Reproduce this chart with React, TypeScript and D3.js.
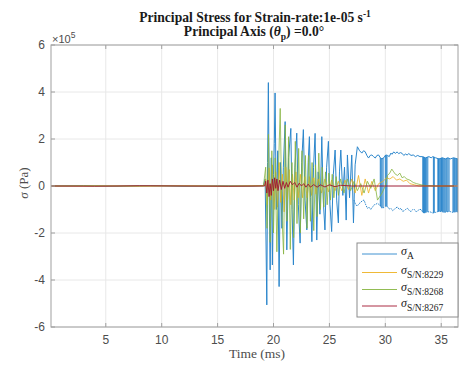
import React from "react";
import * as d3 from "d3";

// values in units of 1e5 Pa, time in ms
const seriesNames = ["A", "S/N:8229", "S/N:8268", "S/N:8267"];
const seriesColors = ["#2b86cc", "#EDB120", "#86b440", "#A2142F"];

const xTicks = [5, 10, 15, 20, 25, 30, 35];
const yTicks = [-6, -4, -2, 0, 2, 4, 6];

const blueMain: [number, number][] = [
  [0.1, 0], [3, 0.02], [6, -0.01], [9, 0.01], [12, -0.01], [15, 0.01], [18, 0], [19.1, 0.02], [19.25, 0.3],
  [19.32, -2.0], [19.4, -5.06], [19.47, 1.0], [19.54, 4.4], [19.62, -0.5], [19.7, -3.57], [19.8, 1.2],
  [19.9, -3.36], [20.0, 0.5], [20.07, 1.8], [20.14, 3.96], [20.25, -1.0], [20.38, 1.5], [20.5, -4.28],
  [20.62, 1.0], [20.75, -1.8], [20.88, 0.8], [21.04, 2.74], [21.19, -2.72], [21.35, 1.2], [21.55, 2.45],
  [21.66, -1.0], [21.78, -3.36], [21.92, 0.8], [22.08, 2.25], [22.22, -0.8], [22.38, -2.43], [22.52, 1.0],
  [22.67, 2.4], [22.82, -0.6], [22.98, -1.87], [23.1, 1.0], [23.21, 2.1], [23.32, -0.5], [23.43, -2.37],
  [23.58, 0.8], [23.72, 2.24], [23.87, -2.3], [24.0, 0.6], [24.15, -1.2], [24.32, 2.1], [24.45, -0.6],
  [24.6, -1.87], [24.75, 0.8], [24.91, 1.9], [25.05, -0.8], [25.2, -1.94], [25.35, 0.5], [25.51, 1.53],
  [25.65, -0.6], [25.8, -1.57], [25.9, 0.6], [26.02, 1.53], [26.2, -0.4], [26.35, 0.8], [26.5, -1.45],
  [26.61, 1.32], [26.8, -0.5], [27.0, 1.32], [27.15, -1.57], [27.3, 0.9], [27.5, 1.67],
  [27.7, 1.5], [27.9, 1.4], [28.05, 1.5], [28.2, 1.46], [28.35, 1.3], [28.5, 1.19], [28.65, 1.3],
  [28.8, 1.32], [28.95, 1.25], [29.1, 1.19], [29.25, 1.3], [29.4, 1.32], [29.55, 1.2], [29.7, 1.15],
  [29.85, 1.2], [30.05, 1.32], [30.2, 1.3], [30.35, 1.25], [30.5, 1.4], [30.6, 1.35], [30.75, 1.45],
  [30.9, 1.39], [31.05, 1.45], [31.2, 1.38], [31.35, 1.42], [31.5, 1.39], [31.65, 1.3], [31.8, 1.36],
  [31.95, 1.32], [32.1, 1.38], [32.3, 1.3], [32.5, 1.32], [32.7, 1.25], [32.9, 1.3], [33.1, 1.25],
  [33.3, 1.25], [33.6, 1.2], [33.9, 1.25], [34.1, 1.2], [34.25, 1.25], [34.5, 1.2], [34.8, 1.15],
  [35.1, 1.2], [35.4, 1.15], [35.6, 1.2], [35.8, 1.15], [36.1, 1.2], [36.5, 1.15],
];

const blueLower: [number, number][] = [
  [27.2, -0.6], [27.35, -0.8], [27.5, -0.85], [27.65, -0.75], [27.8, -0.7], [27.95, -0.62], [28.1, -0.6],
  [28.25, -0.8], [28.4, -0.95], [28.55, -0.9], [28.7, -1.0], [28.85, -0.9], [29.0, -0.8], [29.15, -0.78],
  [29.3, -0.73], [29.45, -0.8], [29.6, -0.85], [29.75, -0.95], [29.9, -0.9], [30.05, -0.85], [30.2, -0.88],
  [30.35, -0.98], [30.5, -0.95], [30.65, -1.05], [30.8, -1.0], [30.95, -0.92], [31.1, -0.9], [31.25, -1.0],
  [31.4, -0.95], [31.55, -1.08], [31.7, -1.05], [31.85, -0.98], [32.0, -0.95], [32.15, -1.05], [32.3, -1.09],
  [32.45, -1.0], [32.6, -1.0], [32.75, -1.1], [32.9, -1.05], [33.05, -1.0], [33.2, -1.0], [33.35, -1.12],
  [33.5, -1.15], [33.75, -1.1], [34.0, -1.1], [34.25, -1.15], [34.5, -1.12], [34.75, -1.08], [35.0, -1.08],
  [35.25, -1.12], [35.5, -1.1], [35.75, -1.08], [36.0, -1.12], [36.25, -1.1], [36.5, -1.1],
];

// [time, low, high] of the rapid switches in sigma_A
const blueSwitches: [number, number, number][] = [
  [29.55, -0.85, 1.2], [29.62, -0.9, 1.18], [29.7, -0.95, 1.15], [29.8, -0.9, 1.2], [30.0, -0.85, 1.32],
  [30.08, -0.86, 1.3], [30.15, -0.88, 1.3],
  [33.35, -1.12, 1.25], [33.42, -1.14, 1.24], [33.5, -1.15, 1.22], [33.6, -1.12, 1.2], [33.7, -1.1, 1.22],
  [33.8, -1.1, 1.24],
  [34.3, -1.15, 1.24], [34.38, -1.14, 1.23], [34.7, -1.1, 1.17], [34.76, -1.09, 1.16], [34.82, -1.08, 1.16],
  [34.9, -1.08, 1.17], [34.97, -1.08, 1.19], [35.03, -1.08, 1.2], [35.1, -1.09, 1.2], [35.17, -1.1, 1.18],
  [35.25, -1.12, 1.16], [35.33, -1.11, 1.15], [35.42, -1.1, 1.17], [35.5, -1.1, 1.2], [35.6, -1.09, 1.2],
  [35.7, -1.08, 1.17],
  [36.05, -1.12, 1.18], [36.12, -1.11, 1.2], [36.2, -1.1, 1.19], [36.3, -1.1, 1.17], [36.38, -1.1, 1.16],
  [36.45, -1.1, 1.15],
];

const yellow: [number, number][] = [
  [0.1, 0], [4, 0.01], [8, -0.01], [12, 0.01], [16, 0], [19.2, 0.02], [19.3, 0.3], [19.45, -0.8],
  [19.6, 0.77], [19.75, -0.6], [19.9, 0.9], [20.05, -1.0], [20.2, 0.6], [20.35, -0.9], [20.5, 1.0],
  [20.65, -0.7], [20.8, 0.5], [20.95, -1.1], [21.1, 0.8], [21.25, -0.6], [21.4, 0.7], [21.55, -0.8],
  [21.7, 0.5], [21.85, -0.6], [22.0, 0.6], [22.2, -0.5], [22.4, 0.5], [22.6, -0.5], [22.8, 0.4],
  [23.0, -0.5], [23.2, 0.4], [23.4, -0.4], [23.6, 0.35], [23.8, -0.35], [24.0, 0.3], [24.3, -0.3],
  [24.6, 0.3], [24.9, -0.25], [25.2, 0.25], [25.5, -0.2], [25.8, 0.2], [26.1, -0.2], [26.4, 0.25],
  [26.7, -0.15], [27.0, 0.3], [27.3, -0.3], [27.6, 0.45], [27.9, -0.4], [28.2, 0.3], [28.5, -0.3],
  [28.8, 0.2], [29.1, -0.2], [29.4, 0.1], [29.8, 0.2], [30.1, 0.35], [30.4, 0.3], [30.7, 0.4],
  [31.0, 0.25], [31.3, 0.3], [31.6, 0.2], [31.9, 0.25], [32.2, 0.1], [32.6, 0.05], [33.0, 0], [36.5, 0],
];

const green: [number, number][] = [
  [0.1, 0], [5, 0], [10, 0.01], [15, -0.01], [19.1, 0], [19.3, 0.8], [19.42, -1.8], [19.55, 2.2],
  [19.7, -2.4], [19.85, 1.5], [20.0, -2.0], [20.15, 1.2], [20.3, -2.8], [20.45, 0.8], [20.6, 3.3],
  [20.75, -1.2], [20.9, -2.9], [21.05, 2.6], [21.2, -1.5], [21.35, 2.1], [21.5, -2.7], [21.65, 1.0],
  [21.8, -2.2], [21.95, 1.9], [22.1, -1.6], [22.25, 1.6], [22.4, -2.0], [22.55, 1.5], [22.7, -1.4],
  [22.85, 1.3], [23.0, -1.8], [23.15, 1.3], [23.3, -1.5], [23.45, 1.0], [23.6, -1.9], [23.75, 0.9],
  [23.9, -1.3], [24.05, 1.4], [24.2, -1.0], [24.35, 0.8], [24.5, -0.9], [24.65, 0.6], [24.8, -0.8],
  [24.95, 0.55], [25.1, -0.6], [25.25, 0.5], [25.4, -0.5], [25.6, 0.4], [25.8, -0.4], [26.0, 0.3],
  [26.3, -0.3], [26.6, 0.3], [26.9, -0.2], [27.2, 0.2], [27.5, -0.2], [27.8, 0.1], [28.1, -0.3],
  [28.4, 0.2], [28.7, -0.1], [29.0, 0.3], [29.3, -0.6], [29.7, -0.3], [30.0, 0.0], [30.2, 0.45],
  [30.4, 0.55], [30.58, 0.72], [30.75, 0.6], [30.9, 0.5], [31.1, 0.45], [31.3, 0.55], [31.5, 0.35],
  [31.7, 0.4], [31.9, 0.3], [32.2, 0.25], [32.5, 0.15], [32.8, 0.1], [33.2, 0.05], [33.6, 0.02],
  [34.5, 0], [36.5, 0],
];

const red: [number, number][] = [
  [0.1, 0], [4, -0.01], [8, 0.01], [12, 0], [16, -0.01], [19.2, 0], [19.3, 0.2], [19.4, -0.3],
  [19.5, 0.25], [19.6, -0.45], [19.7, 0.1], [19.8, -0.4], [19.9, 0.3], [20.0, -0.2], [20.1, 0.35],
  [20.2, -0.1], [20.3, 0.3], [20.4, -0.2], [20.55, 0.25], [20.7, -0.15], [20.85, 0.2], [21.0, -0.1],
  [21.15, 0.15], [21.3, -0.05], [21.5, 0.2], [21.7, 0.05], [21.9, 0.15], [22.1, -0.05], [22.3, 0.12],
  [22.5, 0.0], [22.7, 0.1], [22.9, -0.05], [23.1, 0.08], [23.3, -0.05], [23.6, 0.06], [23.9, -0.05],
  [24.2, 0.05], [24.6, -0.04], [25.0, 0.05], [25.5, -0.03], [26.0, 0.03], [27.0, 0], [36.5, 0],
];

const W = 459;
const H = 366;
const M = { left: 51, right: 458, top: 45, bottom: 327 };

export default function App() {
  const x = d3.scaleLinear().domain([0.1, 36.5]).range([M.left, M.right]);
  const y = d3.scaleLinear().domain([-6, 6]).range([M.bottom, M.top]);
  const line = d3
    .line<[number, number]>()
    .x((d) => x(d[0]))
    .y((d) => y(d[1]));

  const serif = "'Liberation Serif', 'Times New Roman', serif";
  const sans = "'Liberation Sans', Arial, sans-serif";
  const tickColor = "#4d4d4d";
  const axisColor = "#a0a0a0";
  const gridColor = "#e8e8e8";

  const legendX = 357;
  const legendY = 243;
  const legendRows = [254, 272.5, 289.5, 306];

  return (
    <svg
      width={W}
      height={H}
      style={{ position: "absolute", left: 0, top: 0, background: "#fff" }}
    >
      <defs>
        <clipPath id="plot">
          <rect x={M.left} y={M.top} width={M.right - M.left} height={M.bottom - M.top} />
        </clipPath>
      </defs>
      <rect x={0} y={0} width={W} height={H} fill="#fff" />
      {/* grid */}
      {xTicks.map((t) => (
        <line key={"gx" + t} x1={x(t)} x2={x(t)} y1={M.top} y2={M.bottom} stroke={gridColor} strokeWidth={1} />
      ))}
      {yTicks.map((t) => (
        <line key={"gy" + t} x1={M.left} x2={M.right} y1={y(t)} y2={y(t)} stroke={gridColor} strokeWidth={1} />
      ))}
      {/* data */}
      <g clipPath="url(#plot)" fill="none" strokeLinejoin="round">
        <path d={line(blueMain) || ""} stroke={seriesColors[0]} strokeWidth={1} />
        <path d={line(blueLower) || ""} stroke={seriesColors[0]} strokeWidth={1} strokeDasharray="1.5,1" />
        {blueSwitches.map((s, i) => (
          <line key={"sw" + i} x1={x(s[0])} x2={x(s[0])} y1={y(s[1])} y2={y(s[2])} stroke={seriesColors[0]} strokeWidth={1} />
        ))}
        <path d={line(yellow) || ""} stroke={seriesColors[1]} strokeWidth={0.8} />
        <path d={line(green) || ""} stroke={seriesColors[2]} strokeWidth={0.8} />
        <path d={line(red) || ""} stroke={seriesColors[3]} strokeWidth={0.9} />
      </g>
      {/* axes box */}
      <rect x={M.left} y={M.top} width={M.right - M.left} height={M.bottom - M.top} fill="none" stroke={axisColor} strokeWidth={1} />
      {xTicks.map((t) => (
        <g key={"xt" + t}>
          <line x1={x(t)} x2={x(t)} y1={M.bottom} y2={M.bottom - 4} stroke={axisColor} />
          <line x1={x(t)} x2={x(t)} y1={M.top} y2={M.top + 4} stroke={axisColor} />
          <text x={x(t)} y={344} textAnchor="middle" fontFamily={sans} fontSize={12} fill={tickColor}>
            {t}
          </text>
        </g>
      ))}
      {yTicks.map((t) => (
        <g key={"yt" + t}>
          <line x1={M.left} x2={M.left + 4} y1={y(t)} y2={y(t)} stroke={axisColor} />
          <line x1={M.right} x2={M.right - 4} y1={y(t)} y2={y(t)} stroke={axisColor} />
          <text x={45} y={y(t) + 4} textAnchor="end" fontFamily={sans} fontSize={12} fill={tickColor}>
            {t}
          </text>
        </g>
      ))}
      {/* exponent */}
      <text x={52} y={43} fontFamily={sans} fontSize={11} fill={tickColor}>
        ×10<tspan dy={-5} fontSize={8.5}>5</tspan>
      </text>
      {/* titles */}
      <text x={255} y={21.5} textAnchor="middle" fontFamily={serif} fontWeight="bold" fontSize={13.6} fill="#1a1a1a">
        Principal Stress for Strain-rate:1e-05 s<tspan dy={-5} fontSize={9.5}>-1</tspan>
      </text>
      <text x={254} y={35.5} textAnchor="middle" fontFamily={serif} fontWeight="bold" fontSize={13.6} fill="#1a1a1a">
        Principal Axis (<tspan fontStyle="italic">θ</tspan>
        <tspan dy={4} fontSize={9.5}>p</tspan>
        <tspan dy={-4}>) =0.0°</tspan>
      </text>
      {/* axis labels */}
      <text x={257} y={357.5} textAnchor="middle" fontFamily={serif} fontSize={13.5} fill={tickColor}>
        Time (ms)
      </text>
      <text
        transform={`translate(28, ${y(0) - 3}) rotate(-90)`}
        textAnchor="middle"
        fontFamily={serif}
        fontSize={13}
        fill={tickColor}
      >
        <tspan fontStyle="italic">σ</tspan> (Pa)
      </text>
      {/* legend */}
      <rect x={legendX} y={legendY} width={M.right - legendX} height={317 - legendY} fill="#fff" stroke="#8c8c8c" strokeWidth={1} />
      {seriesNames.map((n, i) => (
        <g key={"lg" + i}>
          <line x1={362} x2={397} y1={legendRows[i]} y2={legendRows[i]} stroke={seriesColors[i]} strokeWidth={0.9} />
          <text x={401} y={legendRows[i] + 1} fontFamily={serif} fontSize={12} fill="#1a1a1a">
            <tspan fontStyle="italic">σ</tspan>
            <tspan dy={4} fontSize={9.5}>{n}</tspan>
          </text>
        </g>
      ))}
    </svg>
  );
}
